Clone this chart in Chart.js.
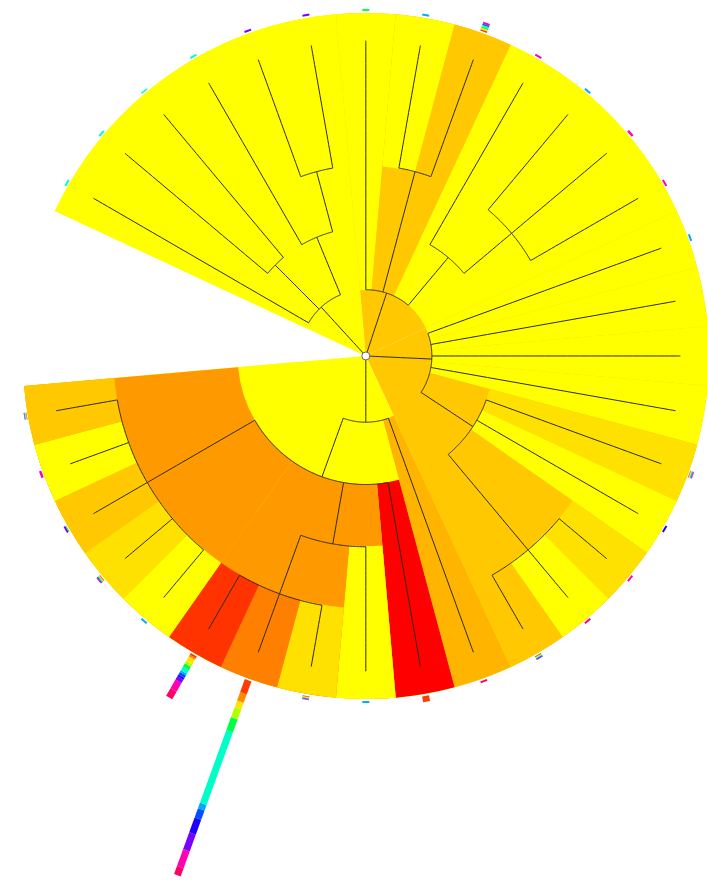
<!DOCTYPE html>
<html>
<head>
<meta charset="utf-8">
<script src="https://cdn.jsdelivr.net/npm/chart.js@4.4.1/dist/chart.umd.min.js"></script>
<style>
  html, body { margin: 0; padding: 0; background: #fff; }
  #wrap { width: 707px; height: 882px; }
</style>
</head>
<body>
<div id="wrap"><canvas id="tree" width="707" height="882"></canvas></div>
<script>
// Leaves, clockwise from the gap (degrees, 0 = 3 o'clock, screen direction)
const leafAngles = [210, 220, 230, 240, 250, 260, 270, 280, 290, 300, 310, 320, 330, 340, 350,
                    360, 370, 380, 390, 400, 410, 420, 430, 440, 450, 460, 470, 480, 490, 500, 510, 520, 530];
const leafColours = ['#ffff00', '#ffff00', '#ffff00', '#ffff00', '#ffff00', '#ffff00', '#ffff00', '#ffff00', '#ffc800',
                     '#ffff00', '#ffff00', '#ffff00', '#ffff00', '#ffff00', '#ffff00', '#ffff00', '#ffff00', '#ffe100',
                     '#ffff00', '#ffe100', '#ffff00', '#ffc800', '#ffb400', '#ff0000', '#ffff00', '#ffe100', '#ff7f00',
                     '#ff3300', '#ffff00', '#ffe100', '#ffc800', '#ffff00', '#ffc800'];

// Internal nodes (level = depth ring of the node)
const nodeIds    = ['root', 'W', 'P', 'V', 'V1', 'Q0', 'Q', 'R', 'S', 'Z', 'U', 'U2', 'Y', 'X', 'C', 'B', 'A'];
const nodeLevels = [0, 1, 2, 2, 3, 1, 3, 2, 3, 1, 2, 4, 1, 2, 3, 4, 4];
const nodeChildren = [
  ['W', 'Q0', 'Z', 'Y'],
  ['L210', 'P', 'V'],
  ['L220', 'L230'],
  ['L240', 'V1'],
  ['L250', 'L260'],
  ['L270', 'Q', 'R'],
  ['L280', 'L290'],
  ['L300', 'S'],
  ['L310', 'L320', 'L330'],
  ['L340', 'L350', 'L360', 'L370', 'U'],
  ['L380', 'L390', 'U2'],
  ['L400', 'L410', 'L420'],
  ['L430', 'X'],
  ['L440', 'C', 'A'],
  ['L450', 'B'],
  ['L460', 'L470', 'L480'],
  ['L490', 'L500', 'L510', 'L520', 'L530']
];
const nodeColours = [null, '#ffff00', '#ffff00', '#ffff00', '#ffff00', '#ffc800', '#ffc800', '#ffff00', '#ffff00',
                     '#ffc800', '#ffc800', '#ffc800', '#ffff00', '#ffff00', '#ff9900', '#ff9900', '#ff9900'];

// Stacked bars outside the ring: one row per category, one value per leaf
const barColours = ['#ff3c00', '#ff8c00', '#ffe600', '#b4ff00', '#00ff46', '#00ffc8',
                    '#00aaff', '#0050ff', '#1e00ff', '#7800ff', '#ff00b4', '#ff0064'];
const barValues = [
  [0,0,0,0,0,0,0,0,1.5,0, 0,0,0,0,0,0,0,0.7,0,0, 0,0.8,0,6,0,0.8,14,2,0,0.8, 0,0,0.6],
  [0,0,0,0,0,0,0,0,0,0, 0,0,0,0,0,0,0,0,0,0, 0,0,0,0,0,0,9,2,0,0, 0,0,0],
  [0,0,0,0,0,0,0,0,1.5,0, 0,0,0,0,0,0,0,0.7,0,0, 0,0,0,0,0,0.8,7,5,0,0.8, 0,0,0],
  [0,0,0,0,0,0,0,0,0,0, 0,0,0,0,0,0,0,0,0,0, 0,0.8,0,0,0,0,11,3,0,0, 0,0,0.6],
  [0,0,0,0,0,0,2,0,1.5,0, 0,0,0,0,0,0,0,0.7,0,0, 0,0,0,0,0,0.8,14,4,0,0.8, 1,0,0],
  [2,2,1.5,2,0,0,0,0,1.5,0, 0,0,0,0,0,0,0,0,0,0, 0,0.8,0,0,0,0,78,4,0,0, 0,0,0.6],
  [0,0,0,0,0,0,0,2,0,0, 2,0,0,2,2,2,2,0.7,0,0, 0,0,0,0,2,0,6,2,2,0.8, 0,0,0],
  [0,0,0,0,0,0,0,0,1.5,0, 0,0,0,0,0,0,0,0,0,0, 0,0.8,0,0,0,0.8,10,3,0,0, 0,0,0.6],
  [0,0,0,0,0,0,0,0,0,0, 0,0,0,0,0,0,0,0,2,0, 0,0,0,0,0,0,16,2,0,0.8, 0,0,0],
  [0,0,0,0,2,2,0,0,0,0, 0,0,0,0,0,0,0,0.7,0,0, 0,0.8,0,0,0,0,18,4,0,0, 2,0,0],
  [0,0,0,0,0,0,0,0,2,2, 0,2.5,2,0,0,0,0,0.7,0,2, 0,0,0,0,0,0.8,18,10,0,0.8, 0,2.5,0.6],
  [0,0,0,0,0,0,0,0,0,0, 0,0,0,0,0,0,0,0,0,0, 2,0,2,0,0,0,9,9,0,0, 0,0,0]
];

// Layout
const levelRadius = [4, 67, 130, 193, 256];
const tipRadius = 319, ringRadius = 348, barBase = 349, halfSlot = 5;

const leafIndex = {};
leafAngles.forEach((a, i) => { leafIndex['L' + a] = i; });
const nodeIndex = {};
nodeIds.forEach((id, i) => { nodeIndex[id] = i; });

const angle = {}, radius = {}, span = {}, parentOf = {};

function layout(id) {
  if (id in leafIndex) {
    const a = leafAngles[leafIndex[id]];
    angle[id] = a;
    radius[id] = tipRadius;
    span[id] = [a, a];
    return;
  }
  const i = nodeIndex[id];
  const kids = nodeChildren[i];
  kids.forEach(k => { parentOf[k] = id; layout(k); });
  angle[id] = kids.reduce((s, k) => s + angle[k], 0) / kids.length;
  radius[id] = levelRadius[nodeLevels[i]];
  span[id] = [span[kids[0]][0], span[kids[kids.length - 1]][1]];
}
layout('root');

function polar(r, a) {
  const t = a * Math.PI / 180;
  return { x: r * Math.cos(t), y: r * Math.sin(t) };
}

function colourOf(id) {
  return (id in leafIndex) ? leafColours[leafIndex[id]] : nodeColours[nodeIndex[id]];
}

// Coloured sectors, parents first so children paint over them
const wedges = [];
function collectWedges(id) {
  if (id !== 'root') {
    const p = parentOf[id];
    wedges.push({
      from: span[id][0] - halfSlot,
      to: span[id][1] + halfSlot,
      inner: p === 'root' ? 0 : radius[p],
      colour: colourOf(id)
    });
  }
  if (id in nodeIndex) nodeChildren[nodeIndex[id]].forEach(collectWedges);
}
collectWedges('root');

const datasets = [];

// root marker (first, so it is drawn on top)
datasets.push({
  data: [{ x: 0, y: 0 }],
  pointRadius: 4,
  pointBackgroundColor: '#ffffff',
  pointBorderColor: '#666666',
  pointBorderWidth: 1
});

function addLine(points, colour, width) {
  datasets.push({
    data: points,
    showLine: true,
    borderColor: colour,
    borderWidth: width,
    borderCapStyle: 'butt',
    borderJoinStyle: 'round',
    tension: 0.0001, // keeps Chart.js off its fast path, which folds short steep pieces
    pointRadius: 0,
    pointHoverRadius: 0
  });
}

// branches: radial pieces
Object.keys(parentOf).forEach(id => {
  const p = parentOf[id];
  addLine([polar(radius[p], angle[id]), polar(radius[id], angle[id])], '#2b2b1a', 1);
});

// branches: arcs joining the children of each node
nodeIds.forEach((id, i) => {
  if (id === 'root') return;
  const kids = nodeChildren[i];
  const a0 = angle[kids[0]], a1 = angle[kids[kids.length - 1]];
  const n = Math.max(2, Math.ceil(a1 - a0));
  const pts = [];
  for (let j = 0; j <= n; j++) pts.push(polar(radius[id], a0 + (a1 - a0) * j / n));
  addLine(pts, '#2b2b1a', 1);
});

// stacked bars outside the ring
leafAngles.forEach((a, li) => {
  let r = barBase;
  barValues.forEach((row, ci) => {
    const v = row[li];
    if (!v) return;
    addLine([polar(r, a), polar(r + v, a)], barColours[ci], 7);
    r += v;
  });
});

const wedgePlugin = {
  id: 'wedges',
  beforeDatasetsDraw(chart) {
    const { ctx, scales: { x, y } } = chart;
    const cx = x.getPixelForValue(0), cy = y.getPixelForValue(0);
    const k = x.getPixelForValue(1) - cx;
    const rad = d => d * Math.PI / 180;
    ctx.save();
    wedges.forEach(w => {
      ctx.beginPath();
      ctx.arc(cx, cy, ringRadius * k, rad(w.from), rad(w.to));
      if (w.inner > 0) {
        ctx.arc(cx, cy, w.inner * k, rad(w.to), rad(w.from), true);
      } else {
        ctx.lineTo(cx, cy);
      }
      ctx.closePath();
      ctx.fillStyle = w.colour;
      ctx.fill();
    });
    ctx.restore();
  }
};

new Chart(document.getElementById('tree'), {
  type: 'scatter',
  data: { datasets: datasets },
  options: {
    responsive: false,
    animation: false,
    events: [],
    layout: { padding: 0 },
    scales: {
      x: { type: 'linear', min: -366, max: 341, display: false },
      y: { type: 'linear', min: -355, max: 527, reverse: true, display: false }
    },
    plugins: {
      legend: { display: false },
      tooltip: { enabled: false }
    }
  },
  plugins: [wedgePlugin]
});
</script>
</body>
</html>
